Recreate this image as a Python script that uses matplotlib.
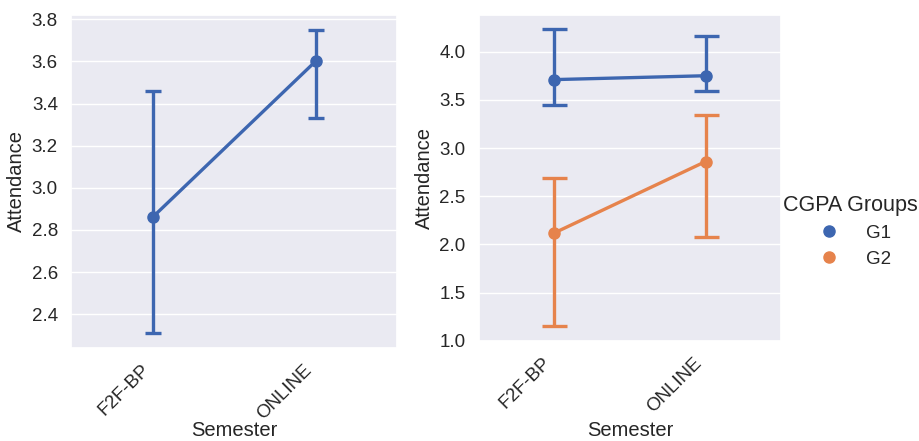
import matplotlib
matplotlib.use("Agg")
import matplotlib.pyplot as plt
import seaborn as sns
from matplotlib.lines import Line2D

sns.set_theme(style="darkgrid")
plt.rcParams['font.family'] = ['Liberation Sans', 'DejaVu Sans']

semesters = ["F2F-BP", "ONLINE"]

# left panel: overall means with error bars
all_mean = [2.86, 3.60]
all_low = [2.31, 3.33]
all_high = [3.46, 3.75]

# right panel: by CGPA group
groups = ["G1", "G2"]
grp_mean = {"G1": [3.71, 3.75], "G2": [2.12, 2.86]}
grp_low = {"G1": [3.45, 3.59], "G2": [1.15, 2.08]}
grp_high = {"G1": [4.23, 4.16], "G2": [2.69, 3.34]}

colors = {"G1": "#3d66b0", "G2": "#e6834c"}
blue = "#3d66b0"

fig = plt.figure(figsize=(9.19, 4.41), dpi=100)
ax1 = fig.add_axes([0.0773, 0.211, 0.3547, 0.755])
ax2 = fig.add_axes([0.521, 0.227, 0.329, 0.739])

x = list(range(len(semesters)))


def draw(ax, mean, low, high, color, capsize):
    yerr = [[m - l for m, l in zip(mean, low)], [h - m for m, h in zip(mean, high)]]
    ax.errorbar(x, mean, yerr=yerr, color=color, lw=2.4, capsize=capsize,
                capthick=2.4, marker='o', markersize=8, zorder=3)


draw(ax1, all_mean, all_low, all_high, blue, 6)
for g in groups:
    draw(ax2, grp_mean[g], grp_low[g], grp_high[g], colors[g], 9)

ax1.set_ylim(2.24, 3.82)
ax1.set_yticks([2.4, 2.6, 2.8, 3.0, 3.2, 3.4, 3.6, 3.8])
ax2.set_ylim(1.0, 4.38)
ax2.set_yticks([1.0, 1.5, 2.0, 2.5, 3.0, 3.5, 4.0])

for ax in (ax1, ax2):
    ax.set_xlim(-0.5, 1.5)
    ax.set_xticks(x)
    ax.set_xticklabels(semesters, rotation=45, ha='right')
    ax.tick_params(axis='both', labelsize=13.5, colors='#262626')
    ax.grid(axis='x', visible=False)
    ax.set_xlabel("Semester", fontsize=14.5, color='#262626')
    ax.set_ylabel("Attendance", fontsize=14.5, color='#262626')

# put the x labels where the reference has them
ax1.xaxis.set_label_coords(0.5, -0.218)
ax2.xaxis.set_label_coords(0.5, -0.245)

handles = [Line2D([], [], ls='none', marker='o', markersize=8, color=colors[g]) for g in groups]
leg = fig.legend(handles, groups, title="CGPA Groups", loc='center left',
                 bbox_to_anchor=(0.834, 0.475), frameon=False, fontsize=13.5,
                 title_fontsize=15.5, handletextpad=1.0, labelspacing=0.45)

fig.savefig("out.png", dpi=100)
